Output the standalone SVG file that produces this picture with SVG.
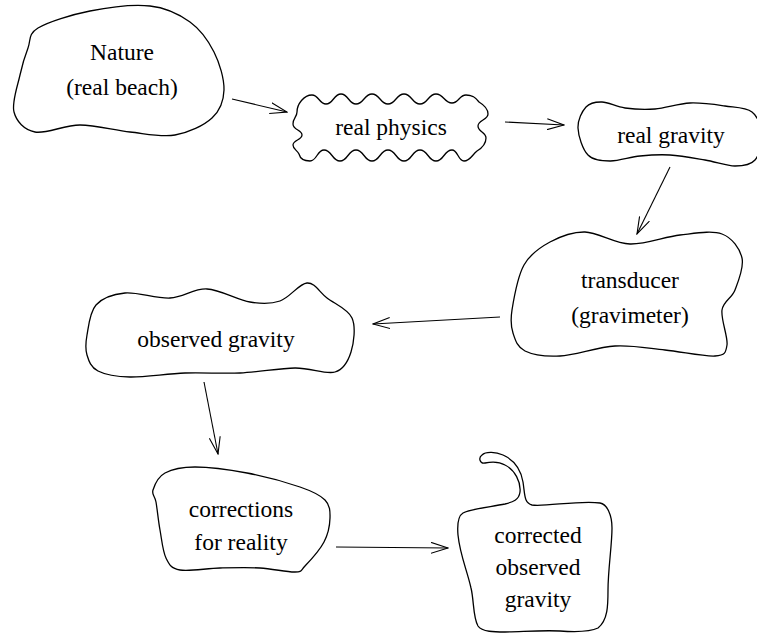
<svg xmlns="http://www.w3.org/2000/svg" width="757" height="634" viewBox="0 0 757 634">
<defs>
<style>
.blob{fill:none;stroke:#000;stroke-width:1.3;stroke-linejoin:round}
.lbl{font-family:"Liberation Serif","Times New Roman",serif;font-size:23.5px;fill:#000;text-anchor:middle}
.conn line{stroke:#000;stroke-width:1.1;marker-end:url(#ah)}
</style>
<marker id="ah" viewBox="0 0 18 12" markerUnits="userSpaceOnUse" markerWidth="18" markerHeight="12" refX="17" refY="6" orient="auto">
<path d="M0,0.5 L17,6 L0,11.5" fill="none" stroke="#000" stroke-width="1.1"/>
</marker>
</defs>
<rect width="757" height="634" fill="#fff"/>
<g id="nature">
<path class="blob" d="M38,28 C48.3,21.8 71.3,14.7 90,11 S133.3,4.2 150,6 S179.3,14.3 190,22 S208.3,40.7 214,52 S224.3,79 224,90 S220.2,110.5 212,118 S188.7,132.7 175,135 S145.8,133.7 130,132 S95.8,125 80,125 S46,134.2 35,132 S16.5,121.5 14,112 S17.7,85.7 20,75 S25,55.8 28,48 S27.7,34.2 38,28 Z"/>
<text class="lbl" x="122" y="60">Nature</text>
<text class="lbl" x="122" y="95">(real beach)</text>
</g>
<g id="real-physics">
<path class="blob" d="M297,112 C297,104 304,95 312,95 C319,95 319,104 326,104 C333.5,104 333.5,94 341,94 C348.5,94 348.5,104 356,104 C364,104 364,94 372,94 C380,94 380,104 388,104 C396,104 396,94 404,94 C412,94 412,104 420,104 C428,104 428,94 436,94 C444,94 444,103 452,103 C459,103 459,95 466,95 C473,95 476,98 479,102 C484,105 488,109 488,114 C488,120 478,120 478,126 C478,132 486,132 486,138 C486,144 482,148 477,151 C472,155 470,161 464,161 C458,161 458,150 452,150 C444,150 444,161 436,161 C428,161 428,150 420,150 C412,150 412,161 404,161 C396,161 396,150 388,150 C380,150 380,161 372,161 C364,161 364,150 356,150 C348,150 348,161 340,161 C332,161 332,150 324,150 C317,150 317,161 310,161 C304,161 300,158 299,154 C297,150 293,149 293,145 C293,140 302,140 302,135 C302,130 293,130 293,124 C293,118 297,117 297,112 Z"/>
<text class="lbl" x="391" y="135">real physics</text>
</g>
<g id="real-gravity">
<path class="blob" d="M578,128 C577.7,120 582,111.3 586,107 S595.5,101.8 602,102 S616.2,106.8 625,108 S644.2,109.8 655,109 S678.3,103.5 690,103 S714.7,104.5 725,106 S745.8,107.2 752,112 S761.5,127 762,135 S759.5,154.8 755,160 S743.3,166 735,166 S715.8,161.8 705,160 S680.8,155.7 670,155 S650,155 640,156 S618.7,161.2 610,161 S593.3,160.5 588,155 S578.3,136 578,128 Z"/>
<text class="lbl" x="671" y="143">real gravity</text>
</g>
<g id="transducer">
<path class="blob" d="M512,310 C513.8,298.7 517.7,276.3 524,265 S539.8,247.5 550,242 S571.7,231.7 585,232 S614.2,243.5 630,244 S664.7,236.7 680,235 S711.7,230.2 722,234 S739.8,248.7 742,258 S738.3,281.3 735,290 S723.3,300.8 722,310 S728.2,337.3 727,345 S725.3,355.2 715,356 S681.7,351.7 665,350 S632.5,345 615,346 S575,355.2 560,356 S532.8,354.8 525,351 S515.2,339.8 513,333 S510.2,321.3 512,310 Z"/>
<text class="lbl" x="630" y="288">transducer</text>
<text class="lbl" x="630" y="323">(gravimeter)</text>
</g>
<g id="observed-gravity">
<path class="blob" d="M87,335 C88.5,326.7 89.7,312 96,305 S112.7,294.2 125,293 S156.3,298.7 170,298 S193.7,288.3 207,289 S237.8,300 250,302 S270.5,304.2 280,301 S299.2,283.5 307,283 S319.5,292.2 327,298 S348,309 352,318 S353.8,343 351,352 S344.3,369.3 335,372 S310.8,367.8 295,368 S258.3,372.2 240,373 S203.3,372.3 185,373 S144.5,377.3 130,377 S105.2,374.7 98,371 S88.8,361 87,355 S85.5,343.3 87,335 Z"/>
<text class="lbl" x="216" y="347">observed gravity</text>
</g>
<g id="corrections">
<path class="blob" d="M153,490 C154.5,485.2 158,476.8 165,473 S181.3,467 195,467 S229.5,469.7 247,473 S287,482.5 300,487 S320,494.8 325,500 S330.2,511 330,518 S328.2,534 324,542 S309.8,561 305,566 S302.5,571.7 295,572 S272.5,568.7 260,568 S233.3,567.7 220,568 S189,571.7 180,570 S169.3,564.7 166,558 S161.7,539.3 160,530 S157.2,508.7 156,502 S151.5,494.8 153,490 Z"/>
<text class="lbl" x="241" y="517">corrections</text>
<text class="lbl" x="241" y="550">for reality</text>
</g>
<g id="corrected">
<path class="blob" d="M463,513 C470,509 490,507 505,504 C513,502 519,500 520,492 C521,482 515,470 505,465 C498,461 490,462 485,463 C480,464 478,458 482,455 C486,451 496,452 503,455 C514,460 521,470 523,482 C525,495 524,503 532,505 C545,507 580,500 600,503 C607,504 612,515 612,528 C612,545 608,570 608,590 C608,605 608,620 598,628 C590,632 575,632 560,631 C540,630 520,632 505,632 C495,632 482,632 478,626 C473,618 474,600 471,588 C467,570 460,555 458,535 C457,523 458,516 463,513 Z"/>
<text class="lbl" x="538" y="543">corrected</text>
<text class="lbl" x="538" y="575">observed</text>
<text class="lbl" x="538" y="607">gravity</text>
</g>
<g id="connectors" class="conn">
<line x1="232" y1="99" x2="287" y2="112"/>
<line x1="505" y1="122" x2="564" y2="125"/>
<line x1="670" y1="167" x2="637" y2="234"/>
<line x1="500" y1="317" x2="373" y2="324"/>
<line x1="204" y1="382" x2="218" y2="454"/>
<line x1="336" y1="547" x2="448" y2="548"/>
</g>
</svg>
